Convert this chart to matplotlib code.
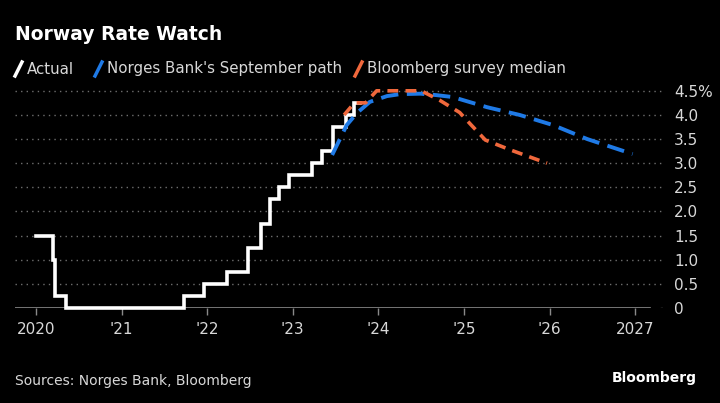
import matplotlib.pyplot as plt
from matplotlib.lines import Line2D

# Norges Bank policy rate, decimal year of each decision
actual_dates = [2020.0, 2020.2, 2020.22, 2020.35, 2021.73, 2021.96, 2022.23, 2022.48,
                2022.63, 2022.73, 2022.84, 2022.96, 2023.22, 2023.34, 2023.47, 2023.62,
                2023.72, 2023.78]
actual_rates = [1.5, 1.0, 0.25, 0.0, 0.25, 0.5, 0.75, 1.25,
                1.75, 2.25, 2.5, 2.75, 3.0, 3.25, 3.75, 4.0,
                4.25, 4.25]

# Norges Bank's September path
path_dates = [2023.46, 2023.63, 2023.75, 2023.9, 2024.1, 2024.25, 2024.49, 2024.68,
              2024.87, 2025.27, 2025.65, 2026.04, 2026.44, 2026.97]
path_rates = [3.17, 3.79, 4.04, 4.27, 4.39, 4.43, 4.44, 4.41,
              4.37, 4.16, 4.0, 3.79, 3.5, 3.19]

# Bloomberg survey median
survey_dates = [2023.6, 2023.72, 2023.85, 2023.98, 2024.5, 2024.72, 2024.95, 2025.08,
                2025.25, 2025.55, 2025.97]
survey_rates = [4.0, 4.25, 4.25, 4.5, 4.5, 4.3, 4.05, 3.8,
                3.48, 3.27, 3.0]

year_ticks = [2020, 2021, 2022, 2023, 2024, 2025, 2026, 2027]
year_labels = ["2020", "'21", "'22", "'23", "'24", "'25", "'26", "2027"]
rate_ticks = [0, 0.5, 1.0, 1.5, 2.0, 2.5, 3.0, 3.5, 4.0, 4.5]
rate_labels = ["0", "0.5", "1.0", "1.5", "2.0", "2.5", "3.0", "3.5", "4.0", "4.5%"]

W, H = 720, 403
BLUE = "#1f7ae6"
ORANGE = "#f0683c"
GREY = "#8a8a8a"
TEXT = "#d8d8d8"

plt.rcParams["font.family"] = ["DejaVu Sans"]


def fx(x):
    return x / W


def fy(y):
    return 1 - y / H


fig = plt.figure(figsize=(W / 100, H / 100), dpi=100, facecolor="black")
ax = fig.add_axes([fx(15), fy(308), (663 - 15) / W, (308 - 85) / H])
ax.set_facecolor("black")

ax.set_xlim(2019.755, 2027.325)
ax.set_ylim(0, 4.62)

for r in rate_ticks[1:]:
    ax.axhline(r, color="#6e6e6e", lw=1.0, linestyle=(0, (1, 3)), zorder=1)
ax.axhline(0, xmin=0, xmax=(650 - 15) / (663 - 15), color=GREY, lw=1.2, zorder=1)
ax.axhline(0, xmin=(661 - 15) / (663 - 15), xmax=1, color="#6e6e6e", lw=1.0, zorder=1)

ax.step(actual_dates, actual_rates, where="post", color="white", lw=2.6,
        solid_joinstyle="miter", zorder=3, clip_on=False)
ax.plot(path_dates, path_rates, color=BLUE, lw=2.8, linestyle=(0, (4.5, 2.2)), zorder=4)
ax.plot(survey_dates, survey_rates, color=ORANGE, lw=2.6, linestyle=(0, (3, 2)), zorder=5)

for side in ["top", "bottom", "left", "right"]:
    ax.spines[side].set_visible(False)

ax.set_xticks(year_ticks)
ax.set_xticklabels(year_labels)
ax.tick_params(axis="x", direction="out", length=5, width=1, color=GREY,
               labelsize=11, labelcolor=TEXT, pad=5)

ax.yaxis.tick_right()
ax.set_yticks(rate_ticks)
ax.set_yticklabels(rate_labels)
ax.tick_params(axis="y", length=0, labelsize=11, labelcolor=TEXT, pad=8)
for lab in ax.get_yticklabels():
    lab.set_horizontalalignment("left")

fig.text(fx(15), fy(35), "Norway Rate Watch", color="white", fontsize=13.5,
         fontweight="bold", va="center", ha="left")

legend_items = [(15, "Actual", "white"),
                (95, "Norges Bank's September path", BLUE),
                (355, "Bloomberg survey median", ORANGE)]
for x0, label, color in legend_items:
    fig.add_artist(Line2D([fx(x0), fx(x0 + 7)], [fy(76), fy(62)], color=color,
                          lw=2.5, transform=fig.transFigure))
    fig.text(fx(x0 + 12), fy(69), label, color=TEXT, fontsize=10.8, va="center", ha="left")

fig.text(fx(15), fy(381), "Sources: Norges Bank, Bloomberg", color=TEXT, fontsize=10,
         va="center", ha="left")
fig.text(fx(697), fy(378), "Bloomberg", color="white", fontsize=10,
         fontweight="bold", va="center", ha="right")

fig.savefig("out.png", dpi=100, facecolor="black")
